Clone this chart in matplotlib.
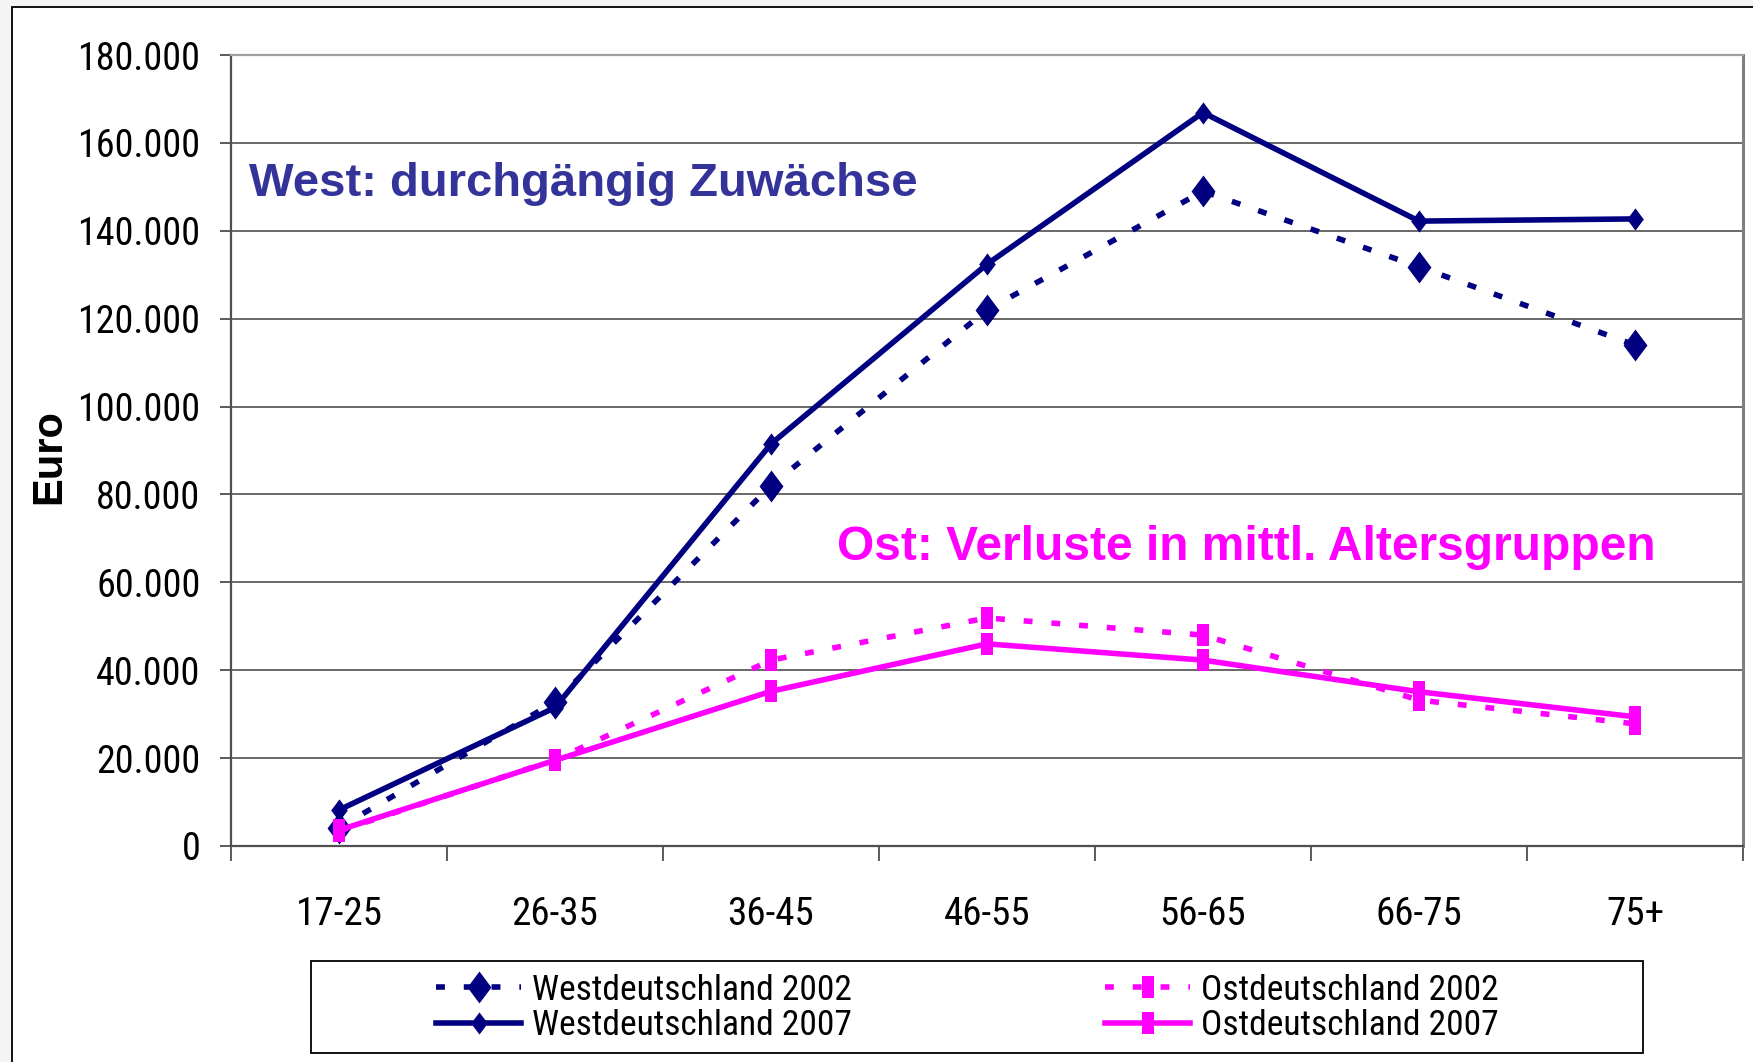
import matplotlib
matplotlib.use("Agg")
import matplotlib.pyplot as plt
from matplotlib import font_manager
from matplotlib.font_manager import FontProperties
from matplotlib.path import Path
from matplotlib.patches import Rectangle

# ---------------- data ----------------
categories = ["17-25", "26-35", "36-45", "46-55", "56-65", "66-75", "75+"]
west_2002 = [4200, 32800, 82000, 122000, 149000, 131800, 114000]
west_2007 = [8200, 31500, 91500, 132400, 166900, 142200, 142700]
ost_2002 = [3400, 19600, 42300, 51900, 48000, 33200, 27800]
ost_2007 = [3600, 19500, 35200, 46000, 42300, 35100, 29400]
y_ticks = [0, 20000, 40000, 60000, 80000, 100000, 120000, 140000, 160000, 180000]
y_ticklabels = ["0", "20.000", "40.000", "60.000", "80.000", "100.000",
                "120.000", "140.000", "160.000", "180.000"]
labels = ["Westdeutschland 2002", "Westdeutschland 2007",
          "Ostdeutschland 2002", "Ostdeutschland 2007"]
note_west = "West: durchgängig Zuwächse"
note_ost = "Ost: Verluste in mittl. Altersgruppen"
y_label = "Euro"

# ---------------- fonts: look for a narrow sans ----------------
def find_narrow():
    fl = font_manager.fontManager.ttflist
    prefs = ["Liberation Sans Narrow", "Arial Narrow", "Roboto Condensed",
             "Open Sans Condensed"]
    for p in prefs:
        for f in fl:
            if f.name == p and f.weight in (400, "normal", "regular") and f.style == "normal":
                return f.fname
    for base in ["Noto Sans", "Open Sans", "DejaVu Sans"]:
        for f in fl:
            fn = f.fname.replace("-", "").replace("_", "").lower()
            if f.name == base and f.style == "normal" and "condensed" in fn \
                    and "semi" not in fn and "extra" not in fn and "bold" not in fn \
                    and "light" not in fn and "medium" not in fn and "black" not in fn \
                    and "thin" not in fn and "italic" not in fn and "oblique" not in fn:
                return f.fname
    return None

narrow_file = find_narrow()

def fprop(size):
    if narrow_file:
        return FontProperties(fname=narrow_file, size=size)
    return FontProperties(family=["Liberation Sans", "DejaVu Sans"], size=size)

plt.rcParams["font.family"] = ["Liberation Sans", "DejaVu Sans"]

fig = plt.figure(figsize=(17.53, 10.62), dpi=100)
renderer = fig.canvas.get_renderer()

def fit_size(sample, target_px, max_size):
    t = fig.text(0, 0, sample, fontproperties=fprop(50))
    w = t.get_window_extent(renderer=renderer).width
    t.remove()
    return min(max_size, 50 * target_px / w)

ytick_size = fit_size("180.000", 123, 30)
xtick_size = fit_size("17-25", 87, 30)
leg_size = fit_size("Westdeutschland 2002", 320, 27.5)

NAVY = "#000080"
MAG = "#FF00FF"

def diamond(w):
    return Path([(0, -1), (w, 0), (0, 1), (-w, 0), (0, -1)],
                [Path.MOVETO, Path.LINETO, Path.LINETO, Path.LINETO, Path.CLOSEPOLY])

def rect(w):
    return Path([(-w, -1), (w, -1), (w, 1), (-w, 1), (-w, -1)],
                [Path.MOVETO, Path.LINETO, Path.LINETO, Path.LINETO, Path.CLOSEPOLY])

fig.patch.set_facecolor("#f4f4f4")
W, H = 1753.0, 1062.0
bg = Rectangle((12 / W, -0.2), 1.3, 1.2 - 7 / H, transform=fig.transFigure,
               facecolor="white", edgecolor="black", linewidth=1.3, zorder=-10)
fig.add_artist(bg)

ax = fig.add_axes([231 / W, 1 - 846 / H, (1743 - 231) / W, (846 - 55) / H])
ax.set_facecolor("white")
x = list(range(len(categories)))

lw = 4.0
dash = (0, (1.6, 3.4))
st = dict(markeredgewidth=0, zorder=3)
ax.plot(x, west_2002, color=NAVY, lw=lw, linestyle=dash, marker=diamond(0.75),
        markersize=23, label=labels[0], **st)
ax.plot(x, west_2007, color=NAVY, lw=lw, linestyle="-", marker=diamond(0.75),
        markersize=16, label=labels[1], **st)
ax.plot(x, ost_2002, color=MAG, lw=lw, linestyle=dash, marker=rect(0.55),
        markersize=16, label=labels[2], **st)
ax.plot(x, ost_2007, color=MAG, lw=lw, linestyle="-", marker=rect(0.55),
        markersize=16, label=labels[3], **st)

ax.set_xlim(-0.5, len(categories) - 0.5)
ax.set_ylim(0, 180000)
ax.set_yticks(y_ticks)
ax.set_yticklabels(y_ticklabels, fontproperties=fprop(ytick_size))
ax.tick_params(axis="y", length=8, width=1.2, color="#404040",
               direction="out", pad=14)
ax.set_xticks(x)
ax.set_xticklabels(categories, fontproperties=fprop(xtick_size))
ax.set_xticks([i - 0.5 for i in range(len(categories) + 1)], minor=True)
ax.tick_params(axis="x", which="major", length=0, pad=36)
ax.tick_params(axis="x", which="minor", length=11, width=1.2, color="#404040",
               direction="out")

ax.grid(axis="y", color="#404040", linewidth=1.1, zorder=0)
ax.set_axisbelow(True)
for s in ["left", "bottom"]:
    ax.spines[s].set_color("#505050")
    ax.spines[s].set_linewidth(1.6)
ax.spines["right"].set_color("#808080")
ax.spines["right"].set_linewidth(2.2)
ax.spines["top"].set_color("#a0a0a0")
ax.spines["top"].set_linewidth(1.6)

fig.text(49 / W, 1 - 457 / H, y_label, fontsize=30, fontweight="bold",
         rotation=90, ha="center", va="center")

ax.text(0.012, 0.837, note_west, transform=ax.transAxes, fontsize=34,
        fontweight="bold", color="#333399", ha="left", va="center")
ax.text(0.401, 0.377, note_ost, transform=ax.transAxes, fontsize=34.5,
        fontweight="bold", color=MAG, ha="left", va="center")

# legend frame
fig.add_artist(Rectangle((311 / W, 1 - 1053 / H), (1643 - 311) / W, (1053 - 961) / H,
                         transform=fig.transFigure, facecolor="white",
                         edgecolor="black", linewidth=1.3, zorder=1))
handles, hl = ax.get_legend_handles_labels()
leg_kw = dict(loc="center left", ncol=1, frameon=False, prop=fprop(leg_size),
              handlelength=2.4, handletextpad=0.3, labelspacing=0.07,
              borderpad=0, borderaxespad=0)
leg1 = fig.legend(handles[:2], hl[:2], bbox_to_anchor=(436 / W, 1 - 1008 / H), **leg_kw)
leg2 = fig.legend(handles[2:], hl[2:], bbox_to_anchor=(1105 / W, 1 - 1008 / H), **leg_kw)
leg1.set_zorder(2)
leg2.set_zorder(2)

fig.savefig("out.png", dpi=100, facecolor=fig.get_facecolor())
